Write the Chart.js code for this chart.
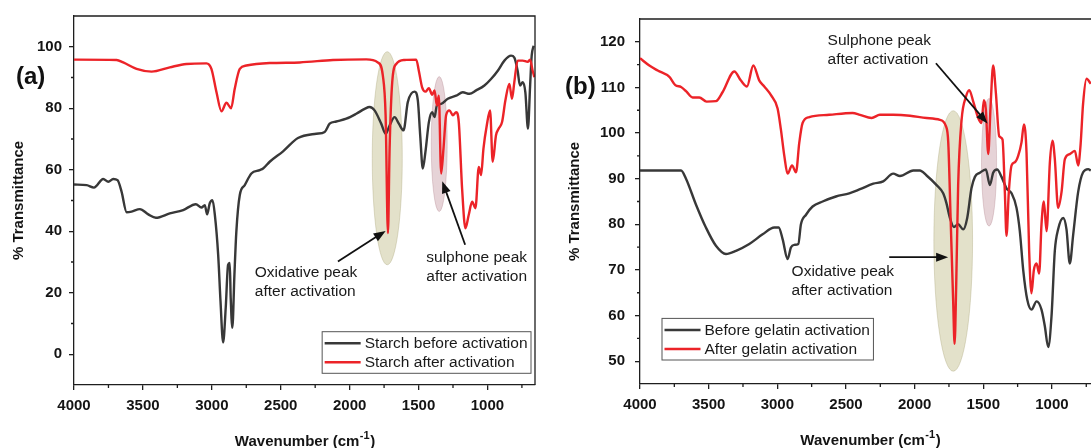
<!DOCTYPE html>
<html>
<head>
<meta charset="utf-8">
<script src="https://cdn.jsdelivr.net/npm/chart.js@4.4.0/dist/chart.umd.min.js"></script>
<style>
  html, body { margin: 0; padding: 0; background: #fff; overflow: hidden; width: 1091px; height: 448px; }
  .panel { position: absolute; top: 0; height: 448px; }
  #panelA { left: 0; width: 546px; }
  #panelB { left: 546px; width: 560px; }
</style>
</head>
<body>
<div class="panel" id="panelA"><canvas id="chartA"></canvas></div>
<div class="panel" id="panelB"><canvas id="chartB"></canvas></div>
<script>
// ---- data (wavenumber in cm-1, % transmittance) ----
const starchBeforeWn = [4000, 3908, 3855, 3788, 3751, 3715, 3684, 3655, 3618, 3582, 3522, 3461, 3406, 3305, 3208, 3116, 3075, 3051, 3034, 3015, 2995, 2978, 2954, 2937, 2918, 2899, 2882, 2870, 2863, 2851, 2836, 2822, 2797, 2761, 2713, 2652, 2628, 2580, 2483, 2375, 2242, 2181, 2145, 2097, 2024, 1952, 1891, 1855, 1819, 1771, 1739, 1710, 1674, 1643, 1609, 1578, 1529, 1505, 1488, 1469, 1450, 1425, 1401, 1384, 1367, 1336, 1288, 1227, 1179, 1131, 1082, 1022, 974, 925, 877, 829, 805, 781, 764, 744, 725, 706, 691, 679, 665];
const starchBeforeT = [55.2, 55.0, 54.2, 57.0, 56.1, 57.0, 56.6, 52.9, 46.2, 46.4, 47.2, 45.5, 44.4, 45.8, 46.9, 48.8, 47.7, 48.5, 45.5, 49.1, 50.1, 45.3, 32.4, 17.3, 3.8, 15.2, 29.1, 29.7, 18.4, 8.6, 25.9, 39.9, 51.8, 55.0, 58.8, 59.9, 60.4, 62.6, 66.0, 70.3, 71.7, 72.3, 75.0, 75.7, 76.6, 78.2, 79.8, 80.4, 79.3, 75.0, 71.7, 74.4, 77.1, 75.0, 72.8, 82.0, 85.4, 82.5, 71.2, 60.4, 65.8, 75.5, 78.7, 77.1, 80.9, 81.4, 83.1, 84.1, 85.2, 84.7, 85.8, 87.4, 89.5, 92.2, 95.5, 97.1, 96.5, 92.2, 87.4, 88.5, 85.2, 73.4, 86.8, 97.1, 100.3];

const starchAfterWn = [4000, 3691, 3643, 3546, 3437, 3305, 3184, 3039, 3003, 2966, 2930, 2894, 2860, 2834, 2797, 2749, 2580, 2362, 2121, 1879, 1795, 1759, 1739, 1722, 1710, 1691, 1662, 1602, 1517, 1498, 1474, 1450, 1425, 1401, 1384, 1367, 1353, 1336, 1319, 1300, 1276, 1251, 1227, 1208, 1184, 1160, 1136, 1111, 1087, 1063, 1046, 1029, 1005, 981, 962, 938, 918, 894, 870, 841, 822, 805, 781, 744, 708, 691, 672, 660];
const starchAfterT = [95.8, 95.7, 94.9, 92.8, 91.9, 93.3, 94.4, 94.6, 92.8, 85.2, 79.0, 81.8, 80.0, 86.3, 92.8, 93.9, 94.7, 94.9, 95.7, 95.9, 94.9, 90.6, 77.7, 39.4, 66.9, 88.5, 94.4, 95.7, 95.8, 92.2, 86.8, 85.4, 86.5, 84.4, 85.8, 80.9, 84.1, 58.8, 66.9, 77.7, 79.3, 77.7, 78.7, 75.5, 53.9, 41.0, 45.3, 49.6, 47.5, 60.9, 58.3, 66.9, 74.4, 79.3, 62.6, 71.2, 73.4, 75.5, 82.5, 87.9, 83.1, 88.5, 95.5, 95.5, 95.1, 95.8, 92.2, 90.1];

const gelatinBeforeWn = [4000, 3701, 3665, 3592, 3520, 3447, 3374, 3301, 3204, 3107, 3022, 2990, 2961, 2925, 2901, 2877, 2847, 2828, 2791, 2743, 2670, 2573, 2476, 2398, 2301, 2229, 2156, 2107, 2010, 1962, 1913, 1840, 1792, 1768, 1743, 1714, 1683, 1646, 1617, 1586, 1561, 1525, 1481, 1452, 1428, 1399, 1367, 1331, 1294, 1258, 1234, 1209, 1180, 1149, 1112, 1076, 1052, 1027, 1003, 979, 955, 918, 894, 870, 845, 809, 773, 736, 717];
const gelatinBeforeT = [91.8, 91.8, 90.0, 84.3, 79.3, 75.3, 73.5, 74.2, 75.7, 77.8, 79.3, 79.3, 76.7, 72.4, 74.9, 75.5, 75.7, 80.0, 82.1, 83.9, 85.0, 86.1, 86.8, 87.7, 88.9, 89.4, 91.1, 90.6, 91.8, 91.8, 90.7, 88.6, 86.8, 84.6, 81.4, 79.4, 80.0, 78.9, 81.4, 87.9, 90.4, 91.3, 92.0, 88.6, 91.3, 92.0, 90.4, 87.9, 86.8, 83.6, 78.5, 69.9, 63.5, 61.3, 63.1, 61.3, 57.7, 53.1, 59.9, 74.2, 78.9, 81.4, 78.9, 71.4, 77.8, 87.1, 91.4, 92.1, 91.8];

const gelatinAfterWn = [4000, 3932, 3871, 3786, 3743, 3701, 3665, 3617, 3568, 3515, 3447, 3398, 3313, 3265, 3221, 3175, 3131, 3095, 3046, 2998, 2974, 2949, 2925, 2893, 2864, 2840, 2816, 2767, 2622, 2452, 2398, 2313, 2253, 2156, 2034, 1913, 1816, 1772, 1755, 1738, 1719, 1709, 1697, 1683, 1658, 1627, 1602, 1573, 1537, 1513, 1496, 1481, 1464, 1447, 1428, 1408, 1384, 1360, 1343, 1331, 1314, 1294, 1270, 1246, 1222, 1204, 1185, 1166, 1149, 1132, 1112, 1093, 1076, 1059, 1039, 1015, 996, 979, 955, 930, 906, 870, 833, 809, 792, 773, 748, 717];
const gelatinAfterT = [116.4, 114.8, 113.7, 112.3, 110.5, 110.1, 109.2, 107.8, 107.8, 106.9, 107.0, 109.0, 113.5, 111.5, 110.2, 114.8, 111.5, 110.2, 108.3, 105.4, 100.8, 95.0, 91.1, 92.9, 91.4, 97.9, 102.2, 103.5, 104.0, 104.4, 104.0, 103.3, 104.0, 104.0, 103.8, 103.3, 102.9, 101.5, 97.9, 81.4, 62.8, 53.8, 67.1, 88.6, 102.9, 107.9, 109.4, 106.9, 103.3, 102.2, 107.2, 105.1, 95.4, 105.8, 114.8, 108.7, 99.3, 98.6, 87.1, 77.5, 87.1, 92.9, 93.6, 95.0, 97.9, 101.9, 95.7, 74.2, 64.9, 69.9, 71.4, 69.2, 80.0, 85.0, 78.5, 93.6, 98.3, 94.3, 83.6, 87.1, 94.3, 95.4, 96.1, 92.9, 97.2, 106.5, 111.9, 110.8];

const xMajorTicks = [4000, 3500, 3000, 2500, 2000, 1500, 1000];
const xMinorTicks = [3750, 3250, 2750, 2250, 1750, 1250, 750];
const yMajorTicksA = [0, 20, 40, 60, 80, 100];
const yMinorTicksA = [10, 30, 50, 70, 90];
const yMajorTicksB = [50, 60, 70, 80, 90, 100, 110, 120];
const yMinorTicksB = [55, 65, 75, 85, 95, 105, 115];

const FONT = 'Arial, "Liberation Sans", sans-serif';
const AXIS = '#1e1e1e';
const TEXT = '#141414';
const RED = '#ec2328';
const DARK = '#383838';
const OLIVE_FILL = 'rgba(200,196,150,0.5)';
const OLIVE_EDGE = 'rgba(165,160,115,0.35)';
const PINK_FILL = 'rgba(196,150,160,0.42)';
const PINK_EDGE = 'rgba(170,120,130,0.3)';

function toPoints(wn, t) {
    return wn.map((x, i) => ({ x: x, y: t[i] }));
}

function drawArrow(ctx, x1, y1, x2, y2) {
    const ang = Math.atan2(y2 - y1, x2 - x1);
    const len = 12, half = 4.5;
    const cos = Math.cos(ang), sin = Math.sin(ang);
    ctx.beginPath();
    ctx.moveTo(x1, y1);
    ctx.lineTo(x2 - len * 0.8 * cos, y2 - len * 0.8 * sin);
    ctx.stroke();
    ctx.beginPath();
    ctx.moveTo(x2, y2);
    ctx.lineTo(x2 - len * cos + half * sin, y2 - len * sin - half * cos);
    ctx.lineTo(x2 - len * cos - half * sin, y2 - len * sin + half * cos);
    ctx.closePath();
    ctx.fill();
}

const panelDecor = {
    id: 'panelDecor',
    beforeDatasetsDraw(chart, args, opts) {
        const { ctx, scales: { x, y } } = chart;
        ctx.save();
        opts.ellipses.forEach(e => {
            const cx = x.getPixelForValue(e.center);
            const rx = Math.abs(x.getPixelForValue(e.center + e.halfWidth) - cx);
            const top = y.getPixelForValue(e.top);
            const bottom = y.getPixelForValue(e.bottom);
            ctx.beginPath();
            ctx.ellipse(cx, (top + bottom) / 2, rx, (bottom - top) / 2, 0, 0, Math.PI * 2);
            ctx.fillStyle = e.fill;
            ctx.fill();
            ctx.strokeStyle = e.stroke;
            ctx.lineWidth = 1;
            ctx.stroke();
        });
        ctx.restore();
    },
    afterDraw(chart, args, opts) {
        const { ctx, chartArea: area, scales: { x, y } } = chart;
        ctx.save();

        // top and right frame
        ctx.strokeStyle = AXIS;
        ctx.lineWidth = 1.3;
        ctx.beginPath();
        ctx.moveTo(area.left, area.top);
        ctx.lineTo(area.right, area.top);
        ctx.lineTo(area.right, area.bottom);
        ctx.stroke();

        // minor ticks
        ctx.beginPath();
        xMinorTicks.forEach(v => {
            const px = x.getPixelForValue(v);
            ctx.moveTo(px, area.bottom);
            ctx.lineTo(px, area.bottom + 3);
        });
        opts.yMinor.forEach(v => {
            const py = y.getPixelForValue(v);
            ctx.moveTo(area.left, py);
            ctx.lineTo(area.left - 3, py);
        });
        ctx.stroke();

        // arrows
        ctx.strokeStyle = '#111';
        ctx.fillStyle = '#111';
        ctx.lineWidth = 1.8;
        opts.arrows.forEach(a => {
            drawArrow(ctx, x.getPixelForValue(a.from[0]), y.getPixelForValue(a.from[1]),
                x.getPixelForValue(a.to[0]), y.getPixelForValue(a.to[1]));
        });

        // notes
        ctx.font = '15.5px ' + FONT;
        ctx.fillStyle = '#1a1a1a';
        ctx.textAlign = 'left';
        ctx.textBaseline = 'middle';
        opts.notes.forEach(n => {
            const px = x.getPixelForValue(n.at[0]);
            const py = y.getPixelForValue(n.at[1]);
            n.lines.forEach((line, i) => ctx.fillText(line, px, py + i * 19));
        });

        // legend box
        const sets = chart.data.datasets;
        const widths = sets.map(d => ctx.measureText(d.label).width);
        const boxW = 2.5 + 36 + 4 + Math.max(...widths) + 3.5;
        const boxH = 41.6;
        const lg = opts.legend;
        const boxX = lg.alignRight ? area.right - lg.inset - boxW : area.left + lg.inset;
        const boxY = area.bottom - lg.bottom - boxH;
        ctx.strokeStyle = '#555';
        ctx.lineWidth = 1;
        ctx.strokeRect(boxX, boxY, boxW, boxH);
        sets.forEach((d, i) => {
            const ry = boxY + 11.6 + i * 19;
            ctx.strokeStyle = d.borderColor;
            ctx.lineWidth = 2.6;
            ctx.beginPath();
            ctx.moveTo(boxX + 2.5, ry);
            ctx.lineTo(boxX + 38.5, ry);
            ctx.stroke();
            ctx.fillText(d.label, boxX + 42.5, ry + 0.5);
        });

        // panel letter
        ctx.font = 'bold 24px ' + FONT;
        ctx.fillStyle = '#111';
        ctx.fillText(opts.letter, area.left - opts.letterOffset, y.getPixelForValue(opts.letterY));

        // x axis title with superscript
        const main = 'Wavenumber (cm';
        const sup = '-1';
        ctx.font = 'bold 15px ' + FONT;
        const w1 = ctx.measureText(main).width;
        const w3 = ctx.measureText(')').width;
        ctx.font = 'bold 11px ' + FONT;
        const w2 = ctx.measureText(sup).width;
        const cx = (area.left + area.right) / 2;
        const tx = cx - (w1 + w2 + w3) / 2;
        const ty = area.bottom + 57;
        ctx.fillStyle = TEXT;
        ctx.font = 'bold 15px ' + FONT;
        ctx.fillText(main, tx, ty);
        ctx.font = 'bold 11px ' + FONT;
        ctx.fillText(sup, tx + w1 + 0.5, ty - 6);
        ctx.font = 'bold 15px ' + FONT;
        ctx.fillText(')', tx + w1 + w2 + 1, ty);

        ctx.restore();
    }
};

function makeScales(o) {
    const tickFont = { family: FONT, size: 15, weight: 'bold' };
    return {
        x: {
            type: 'linear',
            reverse: true,
            min: o.xMin,
            max: 4000,
            afterBuildTicks: s => { s.ticks = xMajorTicks.map(v => ({ value: v })); },
            afterFit: s => { s.height = o.xHeight; },
            grid: { drawOnChartArea: false, tickLength: 5, color: AXIS, lineWidth: 1.3 },
            border: { color: AXIS, width: 1.3 },
            ticks: { font: tickFont, color: TEXT, padding: 7, maxRotation: 0, autoSkip: false, callback: v => String(v) }
        },
        y: {
            min: o.yMin,
            max: o.yMax,
            afterBuildTicks: s => { s.ticks = o.yMajor.map(v => ({ value: v })); },
            afterFit: s => { s.width = 74; },
            grid: { drawOnChartArea: false, tickLength: 5, color: AXIS, lineWidth: 1.3 },
            border: { color: AXIS, width: 1.3 },
            ticks: { font: tickFont, color: TEXT, padding: o.yPad, callback: v => String(v) },
            title: {
                display: true,
                text: '% Transmittance',
                font: { family: FONT, size: 15, weight: 'bold' },
                color: TEXT,
                padding: { top: o.titlePad, bottom: 0 }
            }
        }
    };
}

function lineSet(label, wn, t, color, order) {
    return {
        label: label,
        data: toPoints(wn, t),
        borderColor: color,
        backgroundColor: color,
        borderWidth: 2.4,
        pointRadius: 0,
        cubicInterpolationMode: 'monotone',
        order: order
    };
}

new Chart(document.getElementById('chartA'), {
    type: 'line',
    data: {
        datasets: [
            lineSet('Starch before activation', starchBeforeWn, starchBeforeT, DARK, 2),
            lineSet('Starch after activation', starchAfterWn, starchAfterT, RED, 1)
        ]
    },
    options: {
        responsive: true,
        maintainAspectRatio: false,
        animation: false,
        layout: { padding: { top: 15, right: 11, left: 0, bottom: 0 } },
        scales: makeScales({ xMin: 655, xHeight: 63, yMin: -10, yMax: 110, yMajor: yMajorTicksA, yPad: 7, titlePad: 10 }),
        plugins: {
            legend: { display: false },
            tooltip: { enabled: false },
            panelDecor: {
                yMinor: yMinorTicksA,
                ellipses: [
                    { center: 1727, halfWidth: 109, top: 98.4, bottom: 29.1, fill: OLIVE_FILL, stroke: OLIVE_EDGE },
                    { center: 1350, halfWidth: 58, top: 90.3, bottom: 46.4, fill: PINK_FILL, stroke: PINK_EDGE }
                ],
                arrows: [
                    { from: [2085, 30.2], to: [1739, 40.1] },
                    { from: [1162, 35.6], to: [1328, 56.3] }
                ],
                notes: [
                    { at: [2688, 26.4], lines: ['Oxidative peak', 'after activation'] },
                    { at: [1444, 31.3], lines: ['sulphone peak', 'after activation'] }
                ],
                legend: { alignRight: true, inset: 4, bottom: 11.7 },
                letter: '(a)',
                letterOffset: 58,
                letterY: 90
            }
        }
    },
    plugins: [panelDecor]
});

new Chart(document.getElementById('chartB'), {
    type: 'line',
    data: {
        datasets: [
            lineSet('Before gelatin activation', gelatinBeforeWn, gelatinBeforeT, DARK, 2),
            lineSet('After gelatin activation', gelatinAfterWn, gelatinAfterT, RED, 1)
        ]
    },
    options: {
        responsive: true,
        maintainAspectRatio: false,
        animation: false,
        layout: { padding: { top: 15, right: 6, left: 20, bottom: 0 } },
        scales: makeScales({ xMin: 650, xHeight: 64, yMin: 45, yMax: 125, yMajor: yMajorTicksB, yPad: 10, titlePad: 0 }),
        plugins: {
            legend: { display: false },
            tooltip: { enabled: false },
            panelDecor: {
                yMinor: yMinorTicksB,
                ellipses: [
                    { center: 1719, halfWidth: 141, top: 104.9, bottom: 47.8, fill: OLIVE_FILL, stroke: OLIVE_EDGE },
                    { center: 1458, halfWidth: 55, top: 107.6, bottom: 79.6, fill: PINK_FILL, stroke: PINK_EDGE }
                ],
                arrows: [
                    { from: [1845, 115.3], to: [1469, 102.1] },
                    { from: [2185, 72.8], to: [1756, 72.8] }
                ],
                notes: [
                    { at: [2634, 120.3], lines: ['Sulphone peak', 'after activation'] },
                    { at: [2896, 69.6], lines: ['Oxidative peak', 'after activation'] }
                ],
                legend: { alignRight: false, inset: 22, bottom: 24 },
                letter: '(b)',
                letterOffset: 75,
                letterY: 110
            }
        }
    },
    plugins: [panelDecor]
});
</script>
</body>
</html>
